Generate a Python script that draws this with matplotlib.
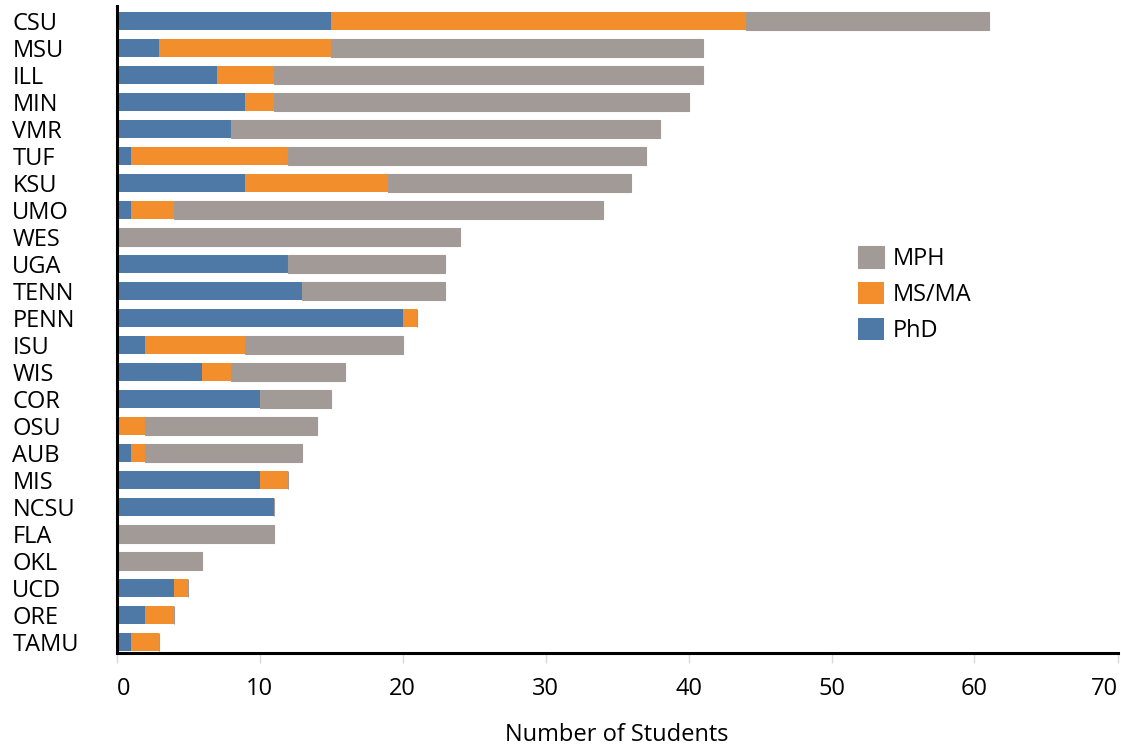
import matplotlib.pyplot as plt
import numpy as np

# datos (de arriba hacia abajo)
schools = ['CSU', 'MSU', 'ILL', 'MIN', 'VMR', 'TUF', 'KSU', 'UMO', 'WES', 'UGA',
           'TENN', 'PENN', 'ISU', 'WIS', 'COR', 'OSU', 'AUB', 'MIS', 'NCSU', 'FLA',
           'OKL', 'UCD', 'ORE', 'TAMU']
phd = [15, 3, 7, 9, 8, 1, 9, 1, 0, 12, 13, 20, 2, 6, 10, 0, 1, 10, 11, 0, 0, 4, 2, 1]
ms_ma = [29, 12, 4, 2, 0, 11, 10, 3, 0, 0, 0, 1, 7, 2, 0, 2, 1, 2, 0, 0, 0, 1, 2, 2]
mph = [17, 26, 30, 29, 30, 25, 17, 30, 24, 11, 10, 0, 11, 8, 5, 12, 11, 0, 0, 11, 6, 0, 0, 0]
x_ticks = [0, 10, 20, 30, 40, 50, 60, 70]

c_phd = '#4e79a7'
c_ms = '#f28e2b'
c_mph = '#a29a96'

plt.rcParams['font.family'] = ['Open Sans', 'DejaVu Sans']

fig = plt.figure(figsize=(11.21, 7.5), dpi=100)
ax = fig.add_axes([116.5/1121, 1-653/750, 1001/1121, 647/750])

y = np.arange(len(schools))[::-1]
phd = np.array(phd)
ms_ma = np.array(ms_ma)
mph = np.array(mph)
h = 0.67

b1 = ax.barh(y, phd, height=h, color=c_phd, label='PhD')
b2 = ax.barh(y, ms_ma, left=phd, height=h, color=c_ms, label='MS/MA')
b3 = ax.barh(y, mph, left=phd+ms_ma, height=h, color=c_mph, label='MPH',
             edgecolor=c_mph, linewidth=0.8)

ax.set_xlim(0, 70)
ax.set_ylim(-0.42, 23.55)
ax.set_xticks(x_ticks)
xl = ax.set_xticklabels([str(t) for t in x_ticks], fontsize=17)
xl[0].set_ha('left')
xl[-1].set_ha('right')
ax.set_yticks(y)
ax.set_yticklabels(schools, fontsize=17, ha='left')
ax.tick_params(axis='y', length=0, pad=75)
ax.tick_params(axis='x', length=7, width=1, color='#d9d9d9', pad=10)

ax.spines['top'].set_visible(False)
ax.spines['right'].set_visible(False)
ax.spines['left'].set_linewidth(2.2)
ax.spines['bottom'].set_linewidth(2.2)
ax.set_xlabel('Number of Students', fontsize=17, labelpad=16)

ax.legend([b3, b2, b1], ['MPH', 'MS/MA', 'PhD'], loc='upper left',
          bbox_to_anchor=(846/1121, 1-234/750), bbox_transform=fig.transFigure,
          frameon=False, fontsize=17, borderpad=0, handlelength=1.1,
          handleheight=1.1, handletextpad=0.4, labelspacing=0.45)

plt.savefig('out.png', dpi=100)
